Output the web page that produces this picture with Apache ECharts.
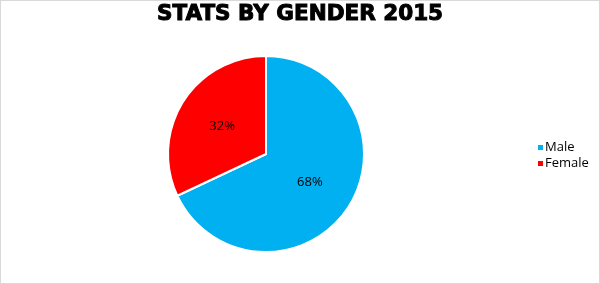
<!DOCTYPE html>
<html><head><meta charset="utf-8">
<script src="https://cdn.jsdelivr.net/npm/echarts@6/dist/echarts.min.js"></script>
<style>html,body{margin:0;padding:0;background:#fff}#c{width:600px;height:284px;box-sizing:border-box;border:1px solid #D9D9D9}</style>
</head><body><div id="c"></div>
<script>
const titleText = "STATS BY GENDER 2015";
const categories = ["Male", "Female"];
const values = [68, 32];
const colors = ["#00B0F0", "#FF0000"];

const chart = echarts.init(document.getElementById('c'));
chart.setOption({
  animation: false,
  title: {
    text: titleText, left: 'center', top: -3,
    textStyle: {fontFamily: 'DejaVu Sans', fontWeight: 'bold', fontSize: 21.5, color: '#000',
      textBorderColor: '#000', textBorderWidth: 1}
  },
  legend: {
    orient: 'vertical', left: 530, top: 135,
    icon: 'rect', itemWidth: 7, itemHeight: 7, itemGap: 3,
    textStyle: {fontFamily: 'Open Sans', fontSize: 13, color: '#000', padding: [0,0,0,-4]},
    data: categories
  },
  series: [{
    type: 'pie', center: [265, 153], radius: 98, startAngle: 90, clockwise: true,
    color: colors,
    itemStyle: {borderColor: '#fff', borderWidth: 2},
    label: {position: 'inside', formatter: '{d}%', fontFamily: 'Open Sans', fontSize: 13, color: '#000'},
    labelLine: {show: false},
    emphasis: {disabled: true},
    data: categories.map((c, i) => ({name: c, value: values[i]}))
  }]
});
</script></body></html>
